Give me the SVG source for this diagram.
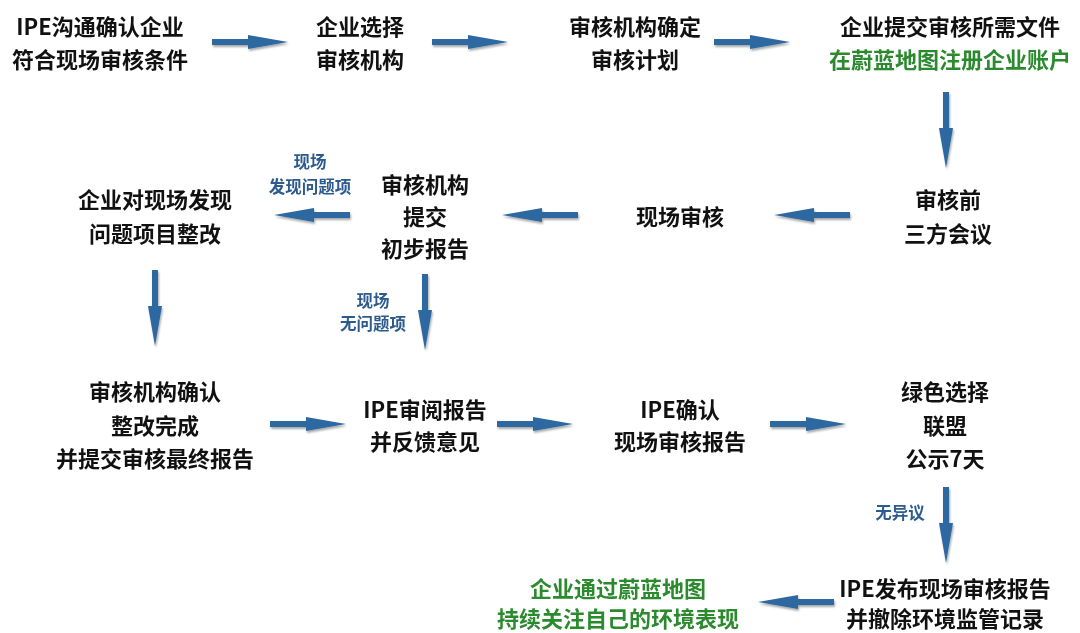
<svg xmlns="http://www.w3.org/2000/svg" width="1080" height="633" viewBox="0 0 1080 633">
<style>
text{font-family:"Noto Sans CJK SC","Noto Sans",sans-serif;font-weight:700;text-anchor:middle;dominant-baseline:central}
.n{font-size:22px;fill:#111}
.g{font-size:22px;fill:#2b8a2e}
.l{font-size:16.5px;fill:#2d5b8e}
</style>
<defs>
<filter id="sh" x="-20%" y="-50%" width="140%" height="200%">
<feGaussianBlur in="SourceAlpha" stdDeviation="1.2"/>
<feOffset dx="1" dy="2" result="b"/>
<feComponentTransfer><feFuncA type="linear" slope="0.35"/></feComponentTransfer>
<feMerge><feMergeNode/><feMergeNode in="SourceGraphic"/></feMerge>
</filter>
<path id="arr" d="M0,-3 L36,-3 L36,-7 L76,0 L36,7 L36,3 L0,3 Z" fill="#2d68a0"/>
</defs>
<rect width="1080" height="633" fill="#fff"/>
<g id="connectors" filter="url(#sh)">
<use href="#arr" transform="translate(212,42)"/>
<use href="#arr" transform="translate(432,42)"/>
<use href="#arr" transform="translate(714,42)"/>
<use href="#arr" transform="translate(946,92) rotate(90)"/>
<use href="#arr" transform="translate(850,215) rotate(180)"/>
<use href="#arr" transform="translate(578,215) rotate(180)"/>
<use href="#arr" transform="translate(350,215) rotate(180)"/>
<use href="#arr" transform="translate(155,270) rotate(90)"/>
<use href="#arr" transform="translate(425,274) rotate(90)"/>
<use href="#arr" transform="translate(270,424)"/>
<use href="#arr" transform="translate(497,424)"/>
<use href="#arr" transform="translate(770,424)"/>
<use href="#arr" transform="translate(946,487) rotate(90)"/>
<use href="#arr" transform="translate(834,602) rotate(180)"/>
</g>
<g id="labels">
<text class="l" x="310" y="161">现场</text>
<text class="l" x="310" y="186">发现问题项</text>
<text class="l" x="373" y="300">现场</text>
<text class="l" x="373" y="323">无问题项</text>
<text class="l" x="900" y="512">无异议</text>
</g>
<g id="n1"><text class="n" x="100" y="25">IPE沟通确认企业</text><text class="n" x="100" y="58">符合现场审核条件</text></g>
<g id="n2"><text class="n" x="360" y="25">企业选择</text><text class="n" x="360" y="58">审核机构</text></g>
<g id="n3"><text class="n" x="635" y="25">审核机构确定</text><text class="n" x="635" y="58">审核计划</text></g>
<g id="n4"><text class="n" x="950" y="25">企业提交审核所需文件</text><text class="g" x="950" y="58">在蔚蓝地图注册企业账户</text></g>
<g id="n5"><text class="n" x="948" y="198">审核前</text><text class="n" x="948" y="232">三方会议</text></g>
<g id="n6"><text class="n" x="680" y="215">现场审核</text></g>
<g id="n7"><text class="n" x="425" y="183">审核机构</text><text class="n" x="425" y="215">提交</text><text class="n" x="425" y="247">初步报告</text></g>
<g id="n8"><text class="n" x="155" y="198">企业对现场发现</text><text class="n" x="155" y="232">问题项目整改</text></g>
<g id="n9"><text class="n" x="155" y="390">审核机构确认</text><text class="n" x="155" y="424">整改完成</text><text class="n" x="155" y="457">并提交审核最终报告</text></g>
<g id="n10"><text class="n" x="425" y="408">IPE审阅报告</text><text class="n" x="425" y="440">并反馈意见</text></g>
<g id="n11"><text class="n" x="680" y="408">IPE确认</text><text class="n" x="680" y="440">现场审核报告</text></g>
<g id="n12"><text class="n" x="945" y="390">绿色选择</text><text class="n" x="945" y="424">联盟</text><text class="n" x="945" y="457">公示7天</text></g>
<g id="n13"><text class="n" x="945" y="587">IPE发布现场审核报告</text><text class="n" x="945" y="617">并撤除环境监管记录</text></g>
<g id="n14"><text class="g" x="618" y="587">企业通过蔚蓝地图</text><text class="g" x="618" y="617">持续关注自己的环境表现</text></g>
</svg>
